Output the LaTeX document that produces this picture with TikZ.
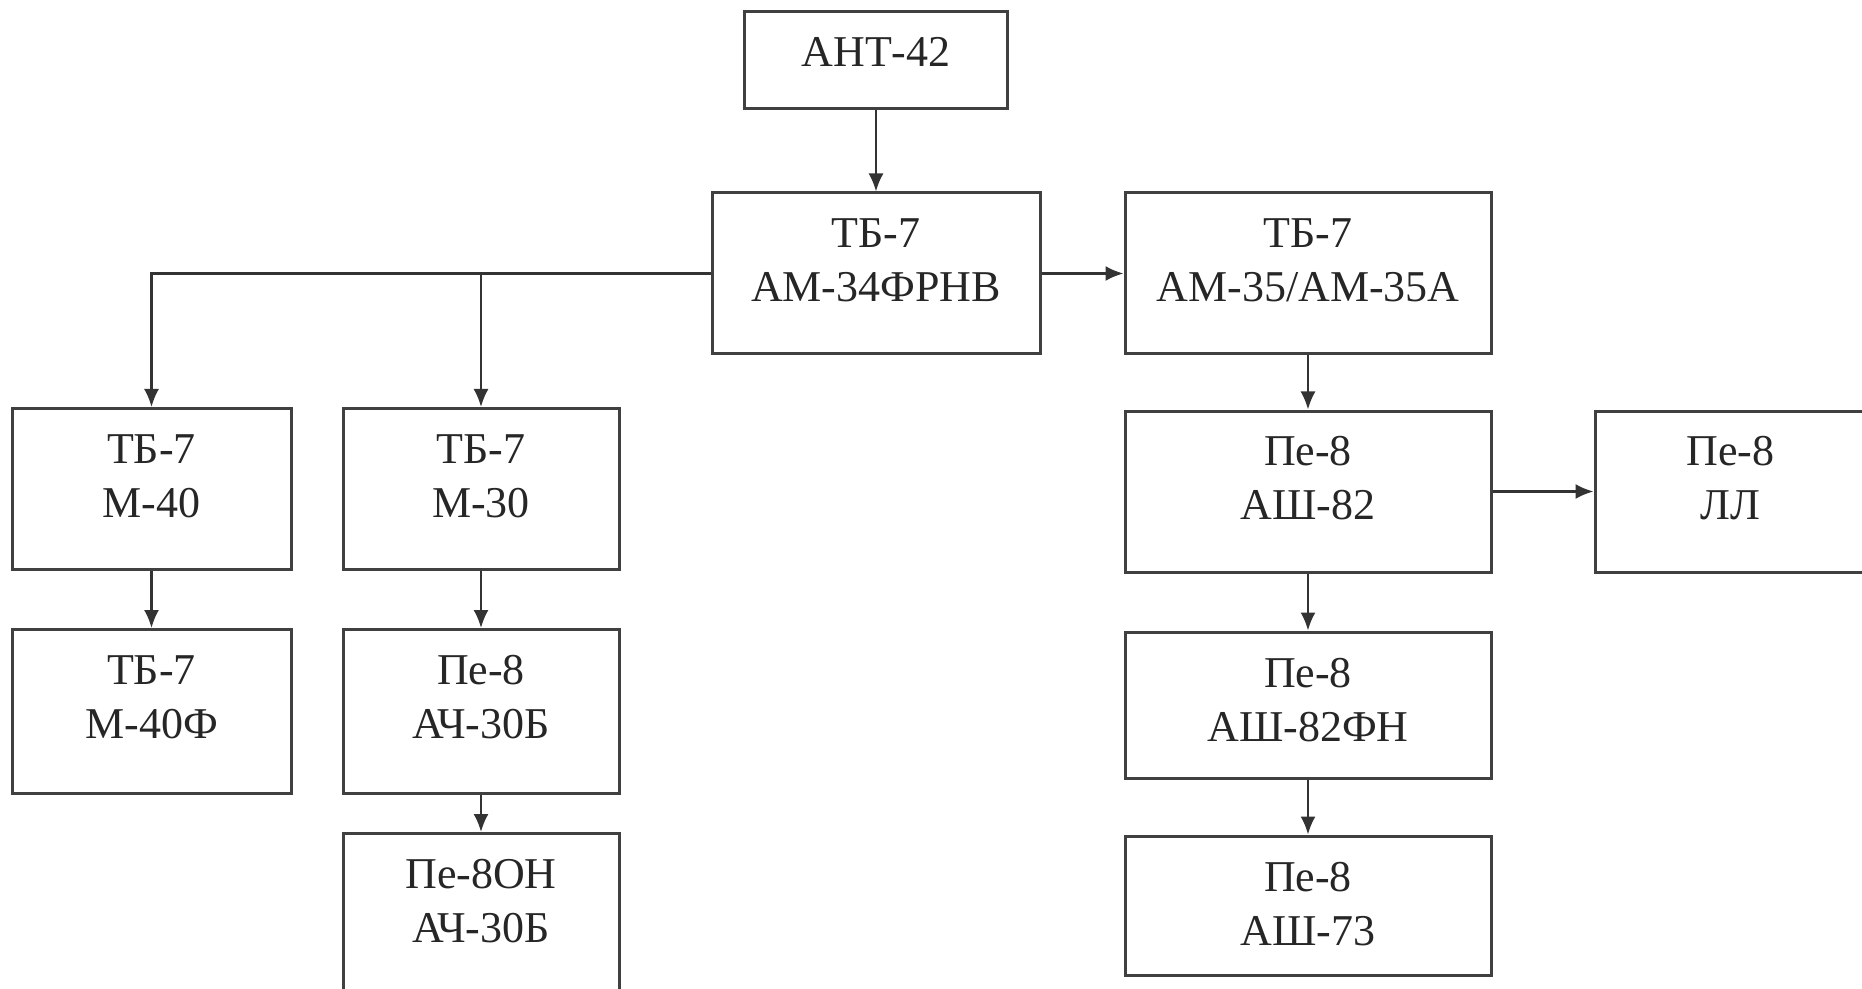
\documentclass[tikz,border=0pt]{standalone}
\usepackage{fontspec}
\setmainfont{Liberation Serif}
\usetikzlibrary{positioning,arrows.meta}

\begin{document}
\begin{tikzpicture}[>={Latex[length=9pt,width=7.5pt]}]
      \tikzstyle{blk}=[draw=black!75, line width=1.5pt, rectangle, inner sep=0pt, align=center, text height=27.5pt, text depth=53pt, text=black!85, font=\fontsize{22}{27}\selectfont];
      \tikzstyle{con}=[draw=black!80, line width=1.1pt];

      \useasboundingbox (0,0) rectangle (931pt,-494.5pt);

      \node (main) at (438pt,-136.75pt)[blk, text width=164pt]{ТБ-7\\АМ-34ФРНВ};
      \node (ant) [above=40.5pt of main, blk, text width=131.5pt, text depth=21pt]{АНТ-42};
      \node (am35) [right=41pt of main, blk, text width=183pt]{ТБ-7\\АМ-35/АМ-35А};
      \node (ash82) [below=27pt of am35, blk, text width=183pt]{Пе-8\\АШ-82};
      \node (ll) [right=50.5pt of ash82, blk, text width=135.5pt]{Пе-8\\ЛЛ};
      \node (ash82fn) [below=28.5pt of ash82, blk, text width=183pt, text depth=45.5pt]{Пе-8\\АШ-82ФН};
      \node (ash73) [below=27.5pt of ash82fn, blk, text width=183pt, text depth=42pt]{Пе-8\\АШ-73};

      \node (m40) at (75.75pt,-244.5pt)[blk, text width=139.5pt]{ТБ-7\\М-40};
      \node (m30) [right=24.5pt of m40, blk, text width=138pt]{ТБ-7\\М-30};
      \node (m40f) [below=28.5pt of m40, blk, text width=139.5pt, text depth=54.5pt]{ТБ-7\\М-40Ф};
      \node (ach30) [below=28.5pt of m30, blk, text width=138pt, text depth=54.5pt]{Пе-8\\АЧ-30Б};
      \node (pe8on) [below=18.5pt of ach30, blk, text width=138pt]{Пе-8ОН\\АЧ-30Б};

      \draw [->, con] (ant) -- (main);
      \draw [->, con] (main) -- (am35);
      \draw [->, con] (main.west) -| (m40.north);
      \draw [->, con] (main.west -| m30.north) -- (m30.north);

      \draw [->, con] (m40) -- (m40f);
      \draw [->, con] (m30) -- (ach30);
      \draw [->, con] (ach30) -- (pe8on);

      \draw [->, con] (am35) -- (ash82);
      \draw [->, con] (ash82) -- (ll);
      \draw [->, con] (ash82) -- (ash82fn);
      \draw [->, con] (ash82fn) -- (ash73);

    \end{tikzpicture}
\end{document}
